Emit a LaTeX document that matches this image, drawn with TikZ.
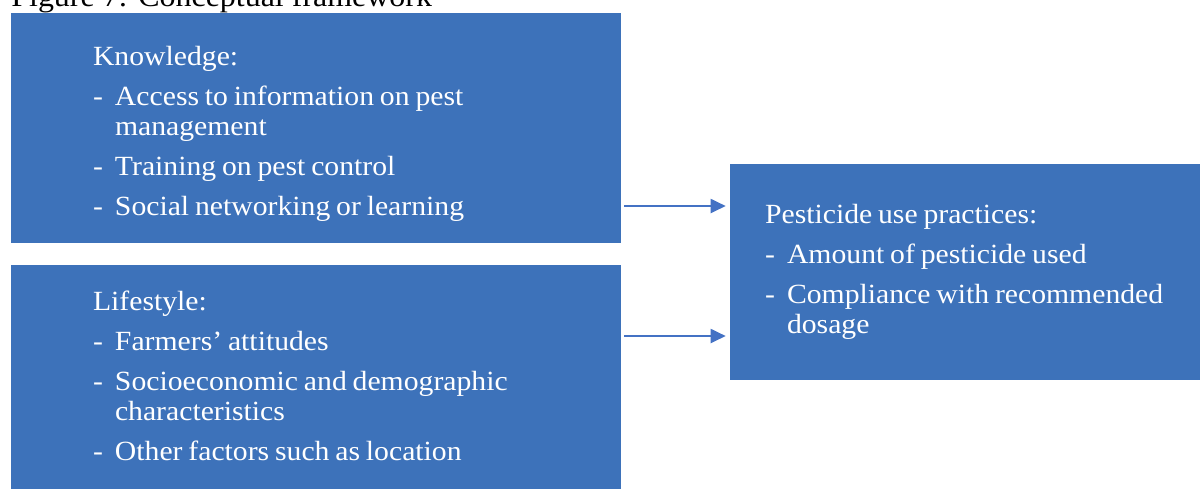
\documentclass[tikz,border=0pt]{standalone}
\usepackage{fontspec}
\setmainfont[FakeStretch=1.07]{Liberation Serif}
\usetikzlibrary{arrows.meta}

\definecolor{boxblue}{HTML}{3D72BA}
\definecolor{arrowblue}{HTML}{4472C4}

% list entry with a dash and hanging indent
\newcommand{\dashitem}[1]{\par\hangindent=12.5pt\hangafter=1\noindent\makebox[12.5pt][l]{-}#1\par}

\begin{document}
\begin{tikzpicture}[x=0.02cm, y=-0.02cm,
    box/.style={rectangle, fill=boxblue, text=white, align=left,
        font=\fontsize{15.8}{17.07}\selectfont,
        execute at begin node={\setlength{\parskip}{5.7pt}\spaceskip=0.21em plus 0.1em minus 0.05em\relax}},
    flow/.style={line width=1.1pt, arrowblue, -{Triangle[length=0.3cm, width=0.28cm]},
        shorten <=0.06cm, shorten >=0.08cm}]
    \useasboundingbox (0,0) rectangle (1200,488);
    \clip (0,0) rectangle (1200,488);

    % Legenda (cortada no topo)
    \node[anchor=base west, inner sep=0pt, font=\fontsize{17}{20}\selectfont] (cap) at (11,6) {Figure 7: Conceptual framework};

    % Caixas da esquerda
    \node[box, minimum width=12.2cm, minimum height=4.6cm, text width=8.92cm, inner xsep=1.64cm] (know) at (316,128)
        {\rule{0pt}{0.6cm}Knowledge:
         \dashitem{Access to information on pest\newline management}
         \dashitem{Training on pest control}
         \dashitem{Social networking or learning}};
    \node[box, minimum width=12.2cm, minimum height=4.6cm, text width=8.92cm, inner xsep=1.64cm] (life) at (316,380)
        {Lifestyle:
         \dashitem{Farmers' attitudes}
         \dashitem{Socioeconomic and demographic\newline characteristics}
         \dashitem{Other factors such as location\rule[-4.5pt]{0pt}{0pt}}};

    % Caixa da direita
    \node[box, minimum width=10cm, minimum height=4.32cm, text width=8.6cm, inner xsep=0.7cm] (prac) at (980,272)
        {Pesticide use practices:
         \dashitem{Amount of pesticide used}
         \dashitem{Compliance with recommended\newline dosage}};

    % Setas
    \coordinate (k1) at (know.east |- 0,206);
    \coordinate (l1) at (life.east |- 0,336);
    \draw[flow] (k1) -- (k1 -| prac.west);
    \draw[flow] (l1) -- (l1 -| prac.west);
\end{tikzpicture}
\end{document}
